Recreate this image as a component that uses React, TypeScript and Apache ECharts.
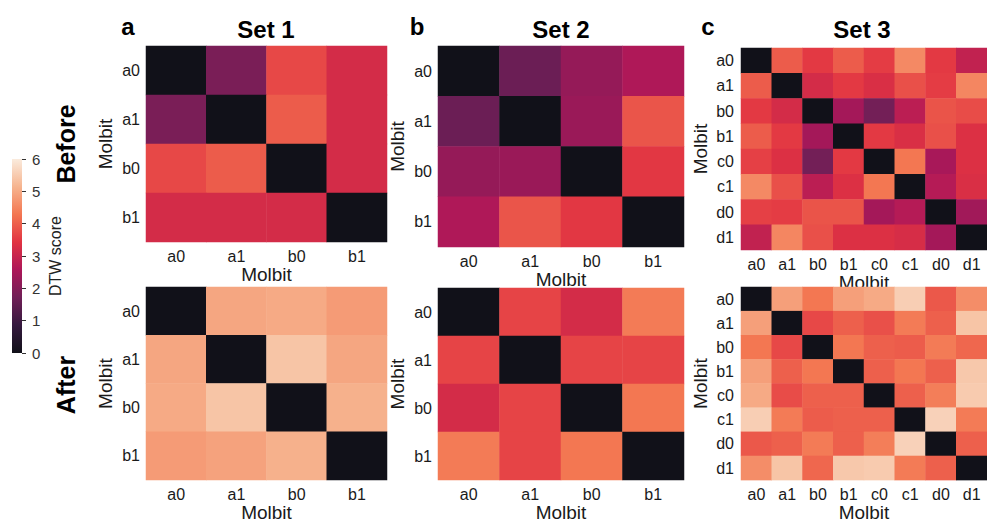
import React, { useEffect, useRef } from "react";
import * as echarts from "echarts";

const molbits4 = ["a0", "a1", "b0", "b1"];
const molbits8 = ["a0", "a1", "b0", "b1", "c0", "c1", "d0", "d1"];
const colorbarMax = 6;
const setTitles = ["Set 1", "Set 2", "Set 3"];
const panelLetters = ["a", "b", "c"];
const rowLabels = ["Before", "After"];
const axisName = "Molbit";
const colorbarLabel = "DTW score";

const set1Before = [
  [0, 1.85, 3.7, 3.2],
  [1.85, 0, 3.95, 3.2],
  [3.7, 3.95, 0, 3.2],
  [3.2, 3.2, 3.2, 0],
];
const set2Before = [
  [0, 1.64, 2.23, 2.6],
  [1.64, 0, 2.31, 3.86],
  [2.23, 2.31, 0, 3.48],
  [2.6, 3.86, 3.48, 0],
];
const set3Before = [
  [0, 3.95, 3.5, 3.95, 3.55, 4.55, 3.5, 2.9],
  [3.95, 0, 3.2, 3.5, 3.3, 3.8, 3.55, 4.5],
  [3.5, 3.2, 0, 2.45, 1.75, 2.8, 3.85, 3.75],
  [3.95, 3.5, 2.45, 0, 3.5, 3.3, 3.8, 3.35],
  [3.6, 3.35, 1.75, 3.5, 0, 4.3, 2.5, 3.35],
  [4.55, 3.8, 2.8, 3.35, 4.3, 0, 2.7, 3.3],
  [3.6, 3.55, 3.85, 3.85, 2.45, 2.7, 0, 2.4],
  [2.9, 4.5, 3.8, 3.35, 3.35, 3.25, 2.45, 0],
];
const set1After = [
  [0, 4.95, 5.0, 4.8],
  [4.95, 0, 5.4, 4.95],
  [5.0, 5.4, 0, 5.1],
  [4.8, 4.9, 5.1, 0],
];
const set2After = [
  [0, 3.65, 3.2, 4.35],
  [3.65, 0, 3.65, 3.65],
  [3.2, 3.65, 0, 4.3],
  [4.35, 3.65, 4.3, 0],
];
const set3After = [
  [0, 4.85, 4.3, 4.85, 5.0, 5.55, 3.9, 4.6],
  [4.85, 0, 3.7, 4.0, 3.8, 4.35, 4.0, 5.4],
  [4.3, 3.7, 0, 4.3, 4.0, 3.95, 4.35, 4.1],
  [4.85, 4.0, 4.3, 0, 4.0, 4.3, 4.0, 5.45],
  [5.0, 3.75, 4.0, 4.0, 0, 4.0, 4.4, 5.5],
  [5.55, 4.35, 3.95, 4.0, 4.0, 0, 5.6, 4.35],
  [3.9, 4.0, 4.35, 4.0, 4.4, 5.6, 0, 4.0],
  [4.6, 5.4, 4.1, 5.45, 5.5, 4.35, 4.0, 0],
];

const rocket = ["#111119", "#35193e", "#701f57", "#ad1759", "#e13342", "#f37651", "#f6b48f", "#faebdd"];

const FONT = "'Liberation Sans', Arial, sans-serif";

const panels = [
  { matrix: set1Before, cats: molbits4, grid: { left: 146, top: 46, width: 241, height: 196 }, lm: 6 },
  { matrix: set2Before, cats: molbits4, grid: { left: 438, top: 46, width: 246, height: 201 }, lm: 6 },
  { matrix: set3Before, cats: molbits8, grid: { left: 741, top: 48, width: 249, height: 202 }, lm: 7 },
  { matrix: set1After, cats: molbits4, grid: { left: 146, top: 287, width: 241, height: 197 }, lm: 6 },
  { matrix: set2After, cats: molbits4, grid: { left: 438, top: 288, width: 246, height: 199 }, lm: 6 },
  { matrix: set3After, cats: molbits8, grid: { left: 741, top: 287, width: 249, height: 203 }, lm: 7 },
];

function toCells(m: number[][]) {
  const out: number[][] = [];
  m.forEach((row, r) => row.forEach((v, c) => out.push([c, r, v])));
  return out;
}

export default function App() {
  const ref = useRef<HTMLDivElement>(null);
  useEffect(() => {
    if (!ref.current) return;
    const chart = echarts.init(ref.current, undefined, { renderer: "svg" });
    const grids: any[] = [];
    const xAxes: any[] = [];
    const yAxes: any[] = [];
    const series: any[] = [];
    panels.forEach((p, i) => {
      grids.push({ ...p.grid });
      xAxes.push({
        type: "category",
        gridIndex: i,
        data: p.cats,
        axisLine: { show: false },
        axisTick: { show: false },
        axisLabel: { color: "#1a1a1a", fontSize: 16, fontFamily: FONT, margin: 6, interval: 0 },
        name: axisName,
        nameLocation: "middle",
        nameGap: 19,
        nameTextStyle: { color: "#1a1a1a", fontSize: 19, fontFamily: FONT },
        splitArea: { show: false },
      });
      yAxes.push({
        type: "category",
        gridIndex: i,
        data: p.cats,
        inverse: true,
        axisLine: { show: false },
        axisTick: { show: false },
        axisLabel: { color: "#1a1a1a", fontSize: 16, fontFamily: FONT, margin: p.lm, interval: 0 },
        name: axisName,
        nameLocation: "middle",
        nameGap: 31,
        nameTextStyle: { color: "#1a1a1a", fontSize: 19, fontFamily: FONT },
      });
      series.push({
        type: "heatmap",
        xAxisIndex: i,
        yAxisIndex: i,
        data: toCells(p.matrix),
        itemStyle: { borderWidth: 0 },
        emphasis: { disabled: true },
      });
    });
    // colorbar
    grids.push({ left: 12, top: 159, width: 10, height: 194 });
    xAxes.push({ type: "category", gridIndex: 6, data: [""], show: false });
    yAxes.push({
      type: "value",
      gridIndex: 6,
      min: 0,
      max: colorbarMax,
      interval: 1,
      position: "right",
      axisLine: { show: false },
      axisTick: { show: true, length: 4, lineStyle: { color: "#333", width: 1 } },
      axisLabel: { color: "#333", fontSize: 15, fontFamily: FONT, margin: 10 },
      splitLine: { show: false },
    });
    series.push({
      type: "bar",
      xAxisIndex: 6,
      yAxisIndex: 6,
      barWidth: "100%",
      data: [colorbarMax],
      itemStyle: {
        color: new echarts.graphic.LinearGradient(
          0, 1, 0, 0,
          rocket.map((c, k) => ({ offset: k / (rocket.length - 1), color: c }))
        ),
      },
      silent: true,
    });

    const centers = [266, 561, 862];
    const letterX = [128, 417, 708];
    const graphic: any[] = [];
    setTitles.forEach((t, i) => {
      graphic.push({
        type: "text", x: centers[i], y: 29,
        style: { text: t, font: `bold 24px ${FONT}`, fill: "#000", align: "center", verticalAlign: "middle" },
      });
      graphic.push({
        type: "text", x: letterX[i], y: 26,
        style: { text: panelLetters[i], font: `bold 24px ${FONT}`, fill: "#000", align: "center", verticalAlign: "middle" },
      });
    });
    const rowY = [144, 385];
    rowLabels.forEach((t, i) => {
      graphic.push({
        type: "text", x: 66, y: rowY[i], rotation: Math.PI / 2,
        style: { text: t, font: `bold 25px ${FONT}`, fill: "#000", align: "center", verticalAlign: "middle" },
      });
    });
    graphic.push({
      type: "text", x: 55, y: 256, rotation: Math.PI / 2,
      style: { text: colorbarLabel, font: `16px ${FONT}`, fill: "#222", align: "center", verticalAlign: "middle" },
    });

    chart.setOption({
      animation: false,
      backgroundColor: "#ffffff",
      grid: grids,
      xAxis: xAxes,
      yAxis: yAxes,
      visualMap: {
        type: "continuous",
        show: false,
        min: 0,
        max: colorbarMax,
        seriesIndex: [0, 1, 2, 3, 4, 5],
        dimension: 2,
        inRange: { color: rocket },
      },
      series,
      graphic,
    });
    return () => chart.dispose();
  }, []);
  return <div ref={ref} style={{ position: "fixed", left: 0, top: 0, width: 987, height: 523 }} />;
}
